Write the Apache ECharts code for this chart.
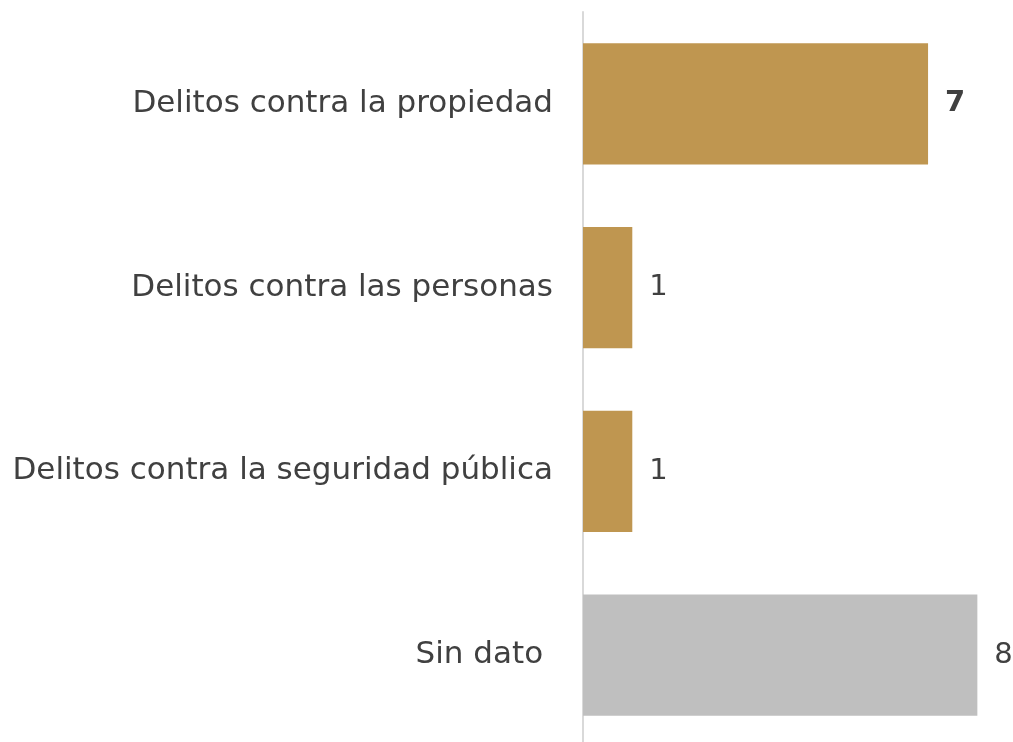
<!DOCTYPE html>
<html><head><meta charset="utf-8">
<script src="https://cdn.jsdelivr.net/npm/echarts@6/dist/echarts.min.js"></script>
<style>html,body{margin:0;padding:0;background:#fff}#c{width:1013px;height:742px}</style>
</head><body><div id="c"></div>
<script>
const categories = ["Delitos contra la propiedad", "Delitos contra las personas", "Delitos contra la seguridad pública", "Sin dato "];
const values = [7, 1, 1, 8];
const barColors = ["#BF9650", "#BF9650", "#BF9650", "#BFBFBF"];
const boldLabel = [true, false, false, false];

const FONT = "DejaVu Sans";
const chart = echarts.init(document.getElementById('c'));
chart.setOption({
  animation: false,
  grid: { left: 583, top: 12, width: 419, height: 735, containLabel: false, outerBoundsMode: 'none' },
  xAxis: { type: 'value', min: 0, max: 8.5, show: false },
  yAxis: {
    type: 'category', data: categories, inverse: true,
    axisLine: { show: true, lineStyle: { color: '#D9D9D9', width: 2 } },
    axisTick: { show: false },
    axisLabel: { margin: 30, color: '#404040', fontSize: 31, fontFamily: FONT }
  },
  series: [{
    type: 'bar', barCategoryGap: '34%',
    data: values.map((v, i) => ({
      value: v,
      itemStyle: { color: barColors[i] },
      label: { fontWeight: boldLabel[i] ? 'bold' : 'normal' }
    })),
    label: { show: true, position: 'right', distance: 17, color: '#404040', fontSize: 29, fontFamily: FONT }
  }]
});
</script></body></html>
